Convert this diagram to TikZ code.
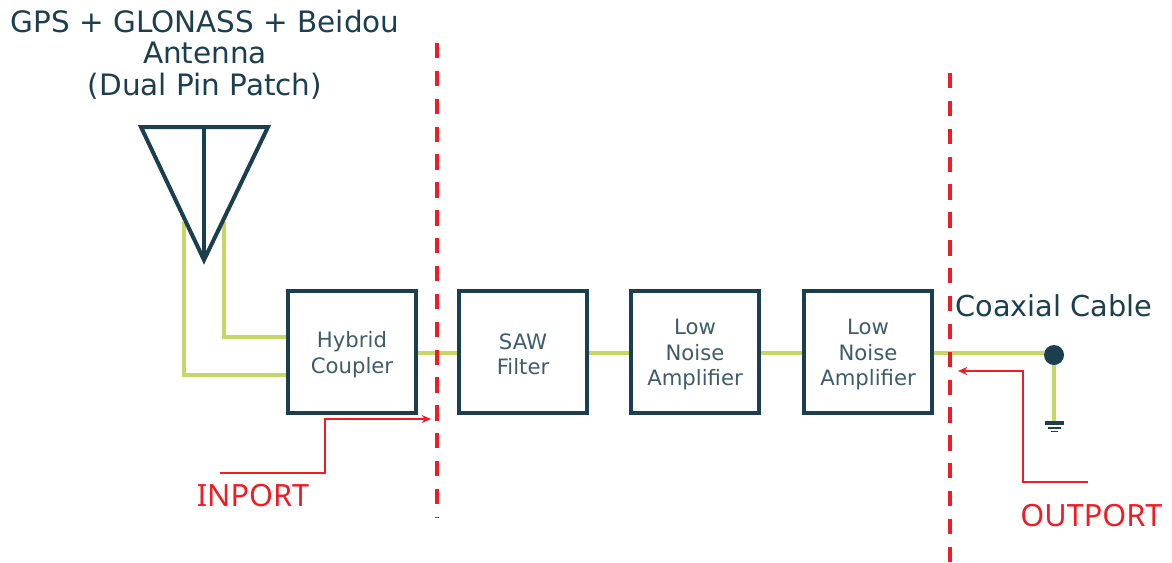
\documentclass[tikz,border=0pt]{standalone}
\usepackage{fontspec}
\usetikzlibrary{arrows.meta}
\setmainfont{DejaVu Sans}
\newfontfamily\portfont{Noto Sans}
\definecolor{navy}{HTML}{1C3F4F}
\definecolor{wire}{HTML}{C6D667}
\definecolor{redport}{HTML}{EE1C25}
\newcommand{\blocktext}[1]{\raisebox{-6.2pt}[0pt][0pt]{\parbox{90pt}{\centering #1}}}
\begin{document}
\begin{tikzpicture}[x=0.75pt,y=-0.75pt,
  blockbox/.style={draw=navy,fill=white,line width=3pt,minimum width=96pt,minimum height=91.5pt,inner sep=0pt,align=center,text=navy!85!white,font=\fontsize{15.9}{19}\selectfont},
  wireline/.style={draw=wire,line width=3pt},
  dashline/.style={draw=redport,line width=3pt,dash pattern=on 11.5pt off 9.4pt},
  portline/.style={draw=redport,line width=1.2pt},
  portarrow/.style={portline,-{Stealth[length=7pt,width=6pt]}},
  navyline/.style={draw=navy,line width=3pt},
  title/.style={text=navy,font=\fontsize{22.1}{23.6}\selectfont,inner sep=0pt,align=center},
  portlabel/.style={text=redport,font=\portfont\fontsize{23}{28}\selectfont,inner sep=0pt}]
\useasboundingbox (0,0) rectangle (1172,562);
\fill[white] (0,0) rectangle (1172,562);
\node[blockbox] (hc) at (352,352) {\blocktext{Hybrid\\Coupler}};
\node[blockbox] (saw) at (523,352) {\blocktext{SAW\\Filter}};
\node[blockbox] (lna1) at (695,352) {\blocktext{Low\\Noise\\Amplifier}};
\node[blockbox] (lna2) at (868,352) {\blocktext{Low\\Noise\\Amplifier}};
\coordinate (apex) at (204,260);
\coordinate (al) at (141,127);
\coordinate (ar) at (268,127);
\coordinate (atop) at (204,127);
\coordinate (pl) at (184,222);
\coordinate (pr) at (224,222);
\node[circle,fill=navy,minimum size=15pt,inner sep=0pt] (dot) at (1054,355) {};
\coordinate (gnd) at (1054,423);
\draw[wireline] (pl) |- (hc.west |- 0,375);
\draw[wireline] (pr) |- (hc.west |- 0,337);
\draw[wireline] (hc.east |- 0,352.5) -- (saw.west |- 0,352.5);
\draw[wireline] (saw.east |- 0,352.5) -- (lna1.west |- 0,352.5);
\draw[wireline] (lna1.east |- 0,352.5) -- (lna2.west |- 0,352.5);
\draw[wireline] (lna2.east |- 0,352.5) -- (dot.west |- 0,352.5);
\draw[wireline] (dot.south) -- (gnd);
% antenna
\draw[navyline,line join=miter] (al) -- (ar) -- (apex) -- cycle;
\draw[navyline] (atop) -- (apex);
% ground
\draw[draw=navy,line width=2.4pt] (1045,423) -- (1064,423);
\draw[draw=navy,line width=1.4pt] (1048,428) -- (1061,428);
\draw[draw=navy,line width=1pt] (1051,431.5) -- (1058,431.5);
% dashed
\coordinate (d1a) at (437,43);
\coordinate (d1b) at (437,518);
\coordinate (d2a) at (949.5,73);
\coordinate (d2b) at (949.5,562);
\draw[dashline] (d1a) -- (d1b);
\draw[dashline] (d2a) -- (d2b);
% labels
\node[title] (t1) at (205,54.5) {GPS + GLONASS + Beidou\\Antenna\\(Dual Pin Patch)};
\node[title,anchor=west,font=\fontsize{21.6}{24}\selectfont] (t2) at (955,306) {Coaxial Cable};
\node[portlabel] (inp) at (253,496) {INPORT};
\node[portlabel] (outp) at (1091.5,516) {OUTPORT};
% port arrows
\coordinate (i0) at (220,473);
\coordinate (i1) at (325,473);
\coordinate (i2) at (325,419);
\coordinate (i3) at (431,419);
\draw[portarrow] (i0) -- (i1) -- (i2) -- (i3);
\coordinate (o0) at (1088,482);
\coordinate (o1) at (1023,482);
\coordinate (o2) at (1023,371);
\coordinate (o3) at (958,371);
\draw[portarrow] (o0) -- (o1) -- (o2) -- (o3);
\end{tikzpicture}
\end{document}
